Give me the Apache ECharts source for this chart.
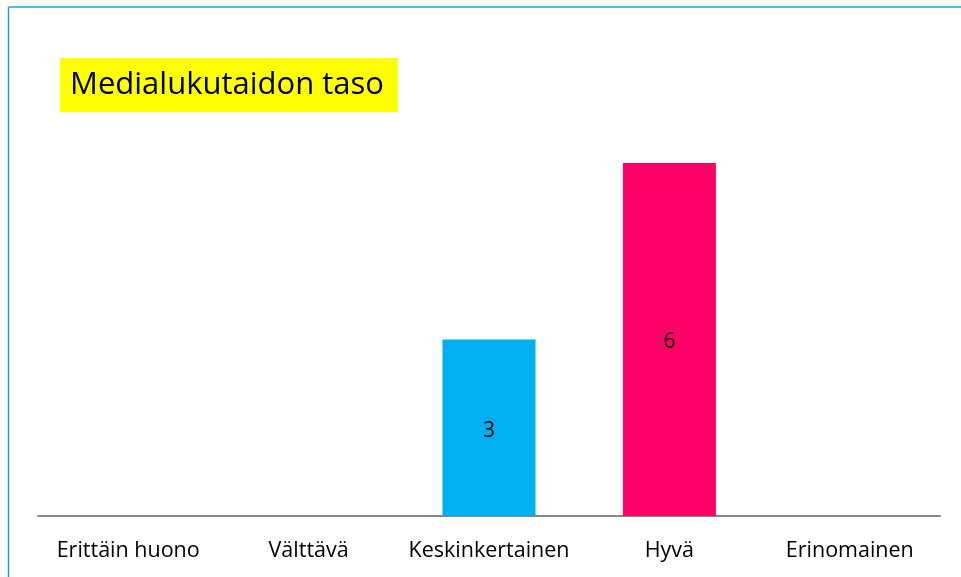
<!DOCTYPE html>
<html>
<head>
<meta charset="utf-8">
<script src="https://cdn.jsdelivr.net/npm/echarts@6/dist/echarts.min.js"></script>
<style>html,body{margin:0;padding:0;background:#fff;}#c{width:961px;height:577px;}</style>
</head>
<body>
<div id="c"></div>
<script>
const categories = ['Erittäin huono', 'Välttävä', 'Keskinkertainen', 'Hyvä', 'Erinomainen'];
const values = [null, null, 3, 6, null];
const barColors = ['#00B0F0', '#00B0F0', '#00B0F0', '#FF0066', '#00B0F0'];
const titleText = 'Medialukutaidon taso';

const chart = echarts.init(document.getElementById('c'), null, {renderer: 'canvas'});
chart.setOption({
  animation: false,
  backgroundColor: '#fff',
  title: {
    text: titleText,
    left: 60, top: 58,
    backgroundColor: '#FFFF00',
    padding: [10, 14, 10, 10],
    textStyle: {fontFamily: 'Open Sans', fontSize: 31, lineHeight: 34, fontWeight: 'normal', color: '#000'}
  },
  graphic: [
    {type: 'line', shape: {x1: 8.5, y1: 7, x2: 961, y2: 7}, style: {stroke: '#1BA1E2', lineWidth: 1.5}},
    {type: 'line', shape: {x1: 8.5, y1: 7, x2: 8.5, y2: 577}, style: {stroke: '#1BA1E2', lineWidth: 1.5}}
  ],
  grid: {left: 38, right: 21, top: 163, bottom: 61, containLabel: false},
  xAxis: {
    type: 'category',
    data: categories,
    axisLine: {lineStyle: {color: '#888', width: 2}},
    axisTick: {show: false},
    axisLabel: {interval: 0, hideOverlap: false, margin: 24, fontFamily: 'Open Sans', fontSize: 21.5, color: '#000'}
  },
  yAxis: {type: 'value', min: 0, max: 6, show: false, splitLine: {show: false}},
  series: [{
    type: 'bar',
    barWidth: 93,
    data: values.map((v, i) => ({value: v, itemStyle: {color: barColors[i]}})),
    label: {show: true, position: 'inside', offset: [0, 3], fontFamily: 'Open Sans', fontSize: 21, color: '#000'}
  }]
});
</script>
</body>
</html>
